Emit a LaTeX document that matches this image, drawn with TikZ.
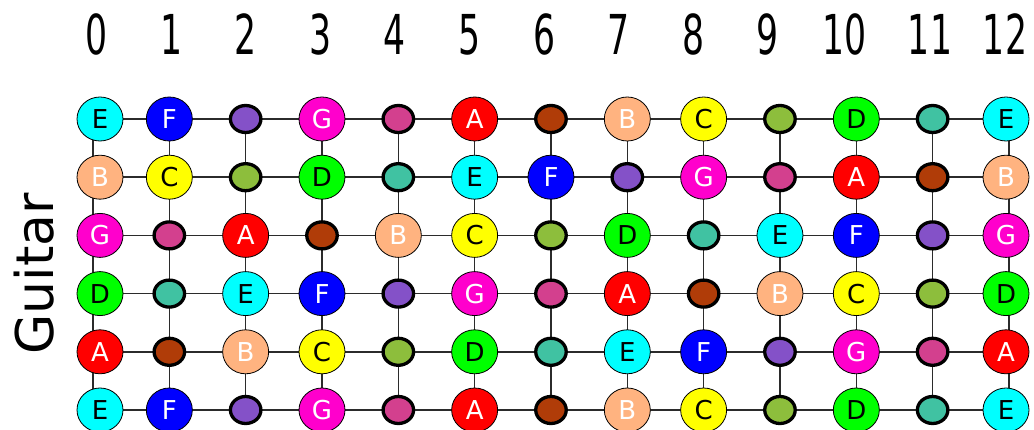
\documentclass[tikz,border=0pt]{standalone}
\usepackage{fontspec}
\setsansfont{DejaVu Sans}
\usepackage{graphicx}
\usepackage{tikz}
\usetikzlibrary{shapes.geometric,backgrounds,calc}
\definecolor{noteC}{HTML}{FFFF00}
\definecolor{noteCs}{HTML}{8DBE3C}
\definecolor{noteD}{HTML}{00FF00}
\definecolor{noteDs}{HTML}{40C2A2}
\definecolor{noteE}{HTML}{00FFFF}
\definecolor{noteF}{HTML}{0000FF}
\definecolor{noteFs}{HTML}{8451C8}
\definecolor{noteG}{HTML}{FF00CC}
\definecolor{noteGs}{HTML}{D3408E}
\definecolor{noteA}{HTML}{FF0000}
\definecolor{noteAs}{HTML}{B03C08}
\definecolor{noteB}{HTML}{FFB380}
\definecolor{fretLine}{HTML}{2B2B2B}

\begin{document}
\begin{tikzpicture}[
  x=1pt, y=-1pt,
  natural/.style={ellipse, draw=black, line width=0.8pt, minimum width=46pt, minimum height=44pt,
    inner sep=0pt, font=\sffamily\fontsize{26}{26}\selectfont},
  sharp/.style={ellipse, draw=black, line width=3.3pt, minimum width=30.5pt, minimum height=27pt, inner sep=0pt},
  fret/.style={draw=fretLine, line width=1.6pt},
  fretnum/.style={anchor=base, inner sep=0pt, font=\sffamily\fontsize{55}{55}\selectfont},
  note0/.style={natural, fill=noteC, text=black},
  note1/.style={sharp, fill=noteCs},
  note2/.style={natural, fill=noteD, text=black},
  note3/.style={sharp, fill=noteDs},
  note4/.style={natural, fill=noteE, text=black},
  note5/.style={natural, fill=noteF, text=white},
  note6/.style={sharp, fill=noteFs},
  note7/.style={natural, fill=noteG, text=white},
  note8/.style={sharp, fill=noteGs},
  note9/.style={natural, fill=noteA, text=white},
  note10/.style={sharp, fill=noteAs},
  note11/.style={natural, fill=noteB, text=white}
]
  \useasboundingbox (0,0) rectangle (1034,430);

  % fret numbers and instrument name
  \foreach \c/\fx in {0/97,1/172,2/245.5,3/321,4/395,5/470,6/545,7/619,8/694,9/768,10/844.5,11/930,12/1005}
    \node[fretnum] (f\c) at (\fx,55) {\scalebox{0.63}[1]{\c}};
  \node[rotate=90, anchor=base, inner sep=0pt, font=\sffamily\fontsize{52}{52}\selectfont] (inst) at (53,274) {Guitar};

  % one row per string, open note counted from C
  \foreach \r/\open in {1/4,2/11,3/7,4/2,5/9,6/4}{
    \foreach \c in {0,...,12}{
      \pgfmathtruncatemacro\k{mod(\open+\c,12)}
      \pgfmathsetmacro\nx{max(100,min(1006,93+76.33*\c))}
      \pgfmathsetmacro\ny{119+58.2*(\r-1)}
      \node[note\k] (s\r-\c) at (\nx,\ny) {\ifcase\k C\or\or D\or\or E\or F\or\or G\or\or A\or\or B\fi};
    }
  }

  \begin{scope}[on background layer]
    \foreach \r in {1,...,6} \draw[fret] (s\r-0.center) -- (s\r-12.center);
    \foreach \c in {0,...,12}{
      \pgfmathsetmacro\dx{93+76.33*\c-max(100,min(1006,93+76.33*\c))}
      \draw[fret] ([xshift=\dx pt]s1-\c.center) -- ([xshift=\dx pt]s6-\c.center);
    }
  \end{scope}
\end{tikzpicture}
\end{document}
